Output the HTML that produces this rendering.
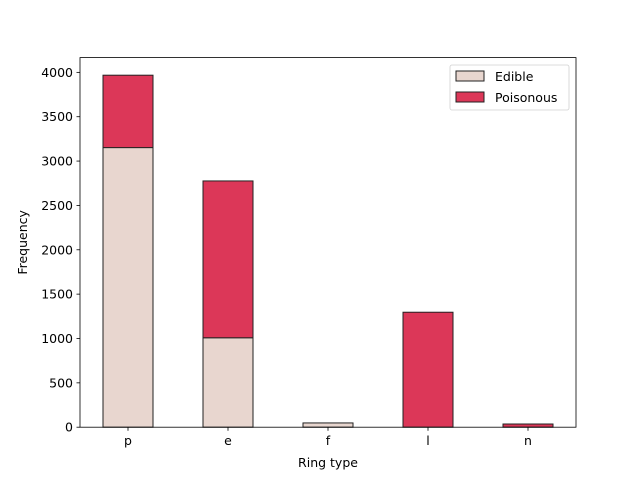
<!DOCTYPE html>
<html><head><meta charset="utf-8"><style>
body{margin:0;background:#fff;font-family:"Liberation Sans","DejaVu Sans",sans-serif}
text{font-family:"DejaVu Sans","Liberation Sans",sans-serif;font-size:12.5px;fill:#000}
</style></head><body>
<svg id="chart" width="640" height="480" xmlns="http://www.w3.org/2000/svg">
<rect width="640" height="480" fill="#fff"/>
<g id="bars"></g>
<rect x="80" y="57.6" width="496" height="369.6" fill="none" stroke="#000" stroke-width="0.8"/>
<g id="axes"></g>
<text x="328" y="467" text-anchor="middle">Ring type</text>
<text transform="translate(27,242.4) rotate(-90)" text-anchor="middle">Frequency</text>
<g>
<rect x="450" y="65" width="119" height="45" rx="2" fill="#fff" stroke="#ccc" stroke-width="0.8" opacity="0.9"/>
<rect x="456" y="71" width="28" height="10" fill="#e8d6cf" stroke="#222"/>
<text x="495" y="81">Edible</text>
<rect x="456" y="92" width="28" height="10" fill="#dc3758" stroke="#222"/>
<text x="495" y="102">Poisonous</text>
</g>
</svg>
<script>
const categories=["p","e","f","l","n"];
const edible=[3152,1008,48,0,0];
const poisonous=[816,1768,0,1296,36];
const yTicks=[0,500,1000,1500,2000,2500,3000,3500,4000];
const NS="http://www.w3.org/2000/svg";
const L=80,R=576,T=57.6,B=427.2;
const ymax=4166.4;
const step=100;
function xs(i){return 128+i*step;}
function ys(v){return B-v/ymax*(B-T);}
const bars=document.getElementById('bars'),axes=document.getElementById('axes');
function mk(tag,attrs,parent){const e=document.createElementNS(NS,tag);for(const k in attrs)e.setAttribute(k,attrs[k]);parent.appendChild(e);return e;}
const bw=50;
categories.forEach((c,i)=>{
  const x=xs(i)-bw/2;
  const e=mk('rect',{x:x,y:ys(edible[i]),width:bw,height:ys(0)-ys(edible[i]),fill:'#e8d6cf',stroke:'#222','stroke-width':1},bars);
  
  
  const top=edible[i]+poisonous[i];
  const p=mk('rect',{x:x,y:ys(top),width:bw,height:ys(edible[i])-ys(top),fill:'#dc3758',stroke:'#222','stroke-width':1},bars);
  
  
  mk('line',{x1:xs(i),x2:xs(i),y1:B,y2:B+3.5,stroke:'#000','stroke-width':0.8},axes);
  const t=mk('text',{x:xs(i),y:B+18,'text-anchor':'middle'},axes);t.textContent=c;
  
  
});
yTicks.forEach(v=>{
  mk('line',{x1:L-3.5,x2:L,y1:ys(v),y2:ys(v),stroke:'#000','stroke-width':0.8},axes);
  const t=mk('text',{x:L-7,y:ys(v)+4.5,'text-anchor':'end'},axes);t.textContent=v;
  
  
});
</script>
</body></html>
